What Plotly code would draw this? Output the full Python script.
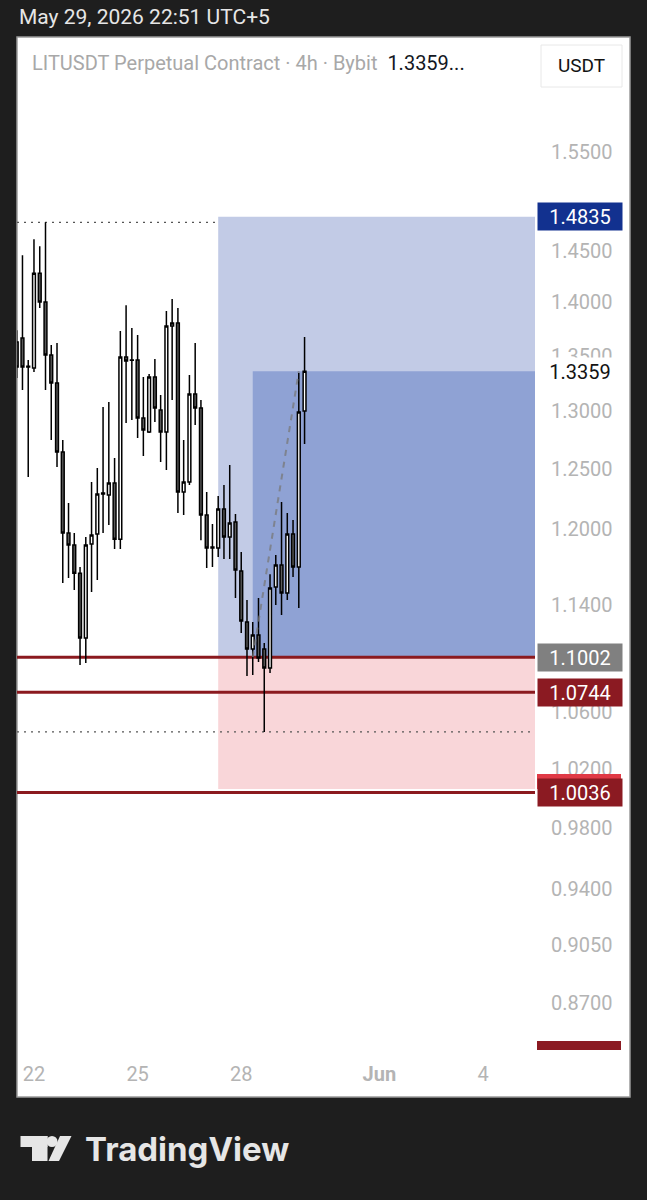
import numpy as np
import pandas as pd
import plotly.graph_objects as go

# ---------------- data ----------------
last_bar = pd.Timestamp("2026-05-29 20:00")
times = pd.date_range(end=last_bar, periods=51, freq="4h")

opens = [1.3627, 1.3664, 1.3397, 1.3388, 1.4279, 1.4001, 1.3507, 1.3253, 1.2646, 1.1969,
         1.1872, 1.1648, 1.1146, 1.1880, 1.1961, 1.2291, 1.2283, 1.2383, 1.1920, 1.3488,
         1.3461, 1.3461, 1.2942, 1.2819, 1.3307, 1.3012, 1.2819, 1.3775, 1.3803, 1.2307,
         1.2391, 1.3154, 1.3030, 1.2117, 1.1856, 1.1848, 1.2166, 1.1937, 1.2060, 1.1664,
         1.1268, 1.1064, 1.1169, 1.1064, 1.0922, 1.1539, 1.1712, 1.1492, 1.1961, 1.1696,
         1.3003]
highs = [1.3737, 1.4454, 1.3461, 1.4612, 1.4543, 1.4780, 1.3599, 1.3617, 1.2750, 1.2216,
         1.1969, 1.1696, 1.1937, 1.2391, 1.2510, 1.3039, 1.3083, 1.2595, 1.3728, 1.3972,
         1.3756, 1.3691, 1.3307, 1.3334, 1.3470, 1.3146, 1.3916, 1.4030, 1.3944, 1.2750,
         1.3325, 1.3617, 1.3101, 1.2307, 1.2043, 1.2274, 1.2366, 1.2536, 1.2125, 1.1816,
         1.1437, 1.1268, 1.1453, 1.1109, 1.1640, 1.1792, 1.2224, 1.2133, 1.2076, 1.3343,
         1.3673]
lows = [1.3298, 1.3190, 1.2434, 1.3352, 1.3944, 1.3190, 1.2750, 1.2519, 1.1570, 1.1609,
        1.1515, 1.0944, 1.0959, 1.1499, 1.1593, 1.1969, 1.2035, 1.1840, 1.1840, 1.2898,
        1.2924, 1.2767, 1.2612, 1.2810, 1.2907, 1.2561, 1.2493, 1.3101, 1.2133, 1.2117,
        1.2366, 1.2880, 1.1912, 1.1688, 1.1696, 1.1776, 1.1760, 1.1760, 1.1453, 1.1184,
        1.0863, 1.0870, 1.0966, 1.0458, 1.0885, 1.1399, 1.1322, 1.1437, 1.1617, 1.1375,
        1.2715]
closes = [1.3397, 1.3397, 1.3405, 1.4279, 1.4001, 1.3507, 1.3253, 1.2646, 1.1969, 1.1872,
          1.1648, 1.1146, 1.1872, 1.1953, 1.2291, 1.2299, 1.2383, 1.1920, 1.3488, 1.3452,
          1.3458, 1.2942, 1.2836, 1.3307, 1.3030, 1.2819, 1.3775, 1.3803, 1.2307, 1.2391,
          1.3154, 1.3030, 1.2117, 1.1848, 1.1848, 1.2166, 1.1937, 1.2051, 1.1672, 1.1275,
          1.1064, 1.1169, 1.0996, 1.0922, 1.1531, 1.1712, 1.1492, 1.1961, 1.1696, 1.2994,
          1.3359]

target_price = 1.4835
current_price = 1.3359
entry_price = 1.1002
level_2 = 1.0744
level_3 = 1.0036
stop_price = 1.0060
lower_label = 0.8404
swing_high = 1.4780
swing_low = 1.0458

position_start = pd.Timestamp("2026-05-27 08:00")
entry_time = pd.Timestamp("2026-05-28 08:00")
arrow_end_time = pd.Timestamp("2026-05-29 16:00")

x_start = pd.Timestamp("2026-05-21 12:12")
x_end = pd.Timestamp("2026-06-05 12:07")

y_ticks = [1.55, 1.45, 1.40, 1.35, 1.30, 1.25, 1.20, 1.14, 1.06, 1.02, 0.98, 0.94, 0.905, 0.87]
x_ticks = ["2026-05-22", "2026-05-25", "2026-05-28", "2026-06-01", "2026-06-04"]
x_tick_text = ["22", "25", "28", "<b>Jun</b>", "4"]

# ---------------- layout helpers (pixel -> paper) ----------------
W, H = 647, 1200
PL, PR, PT, PB = 17, 535, 38, 1050


def px(x):
    return (x - PL) / (PR - PL)


def py(y):
    return (PB - y) / (PB - PT)


FONT = "Roboto"
fig = go.Figure()

fig.add_trace(go.Candlestick(
    x=times, open=opens, high=highs, low=lows, close=closes,
    increasing=dict(fillcolor="#ffffff", line=dict(color="#000000", width=1.5)),
    decreasing=dict(fillcolor="#5a5a5a", line=dict(color="#000000", width=1.5)),
    whiskerwidth=0, showlegend=False, hoverinfo="skip",
))

fig.add_trace(go.Scatter(
    x=[entry_time, arrow_end_time], y=[entry_price, current_price], mode="lines",
    line=dict(color="rgba(120,120,120,0.75)", width=2, dash="6px,6px"),
    showlegend=False, hoverinfo="skip",
))

shapes = []
# white panel
shapes.append(dict(type="rect", xref="paper", yref="paper", x0=px(17), x1=px(630),
                   y0=py(1097), y1=py(37), fillcolor="#ffffff",
                   line=dict(color="#9a9a9a", width=1.5), layer="below"))
# position tool boxes
shapes.append(dict(type="rect", xref="x", yref="y", x0=position_start, x1=x_end,
                   y0=entry_price, y1=target_price, fillcolor="#c2cbe6",
                   line=dict(width=0), layer="below"))
shapes.append(dict(type="rect", xref="x", yref="y", x0=position_start, x1=x_end,
                   y0=stop_price, y1=entry_price, fillcolor="#f9d6d9",
                   line=dict(width=0), layer="below"))
shapes.append(dict(type="rect", xref="x", yref="y", x0=entry_time, x1=x_end,
                   y0=entry_price, y1=current_price, fillcolor="#8fa2d4",
                   line=dict(width=0), layer="below"))
# dotted swing lines
shapes.append(dict(type="line", xref="x", yref="y", x0=x_start, x1=position_start,
                   y0=swing_high, y1=swing_high,
                   line=dict(color="#555555", width=1.3, dash="2px,5px"), layer="below"))
shapes.append(dict(type="line", xref="x", yref="y", x0=x_start, x1=x_end,
                   y0=swing_low, y1=swing_low,
                   line=dict(color="#555555", width=1.3, dash="2px,5px"), layer="below"))
# red horizontal levels
for lv in [entry_price, level_2, level_3]:
    shapes.append(dict(type="line", xref="x", yref="y", x0=x_start, x1=x_end,
                       y0=lv, y1=lv, line=dict(color="#8b1a1f", width=3), layer="below"))
# stop label band (hidden behind 1.0036 badge)
shapes.append(dict(type="rect", xref="paper", yref="y", ysizemode="pixel", yanchor=stop_price,
                   x0=px(537), x1=px(621), y0=-12, y1=15, fillcolor="#e03a46",
                   line=dict(width=0), layer="above"))
# bottom clipped badge
shapes.append(dict(type="rect", xref="paper", yref="y", ysizemode="pixel", yanchor=lower_label,
                   x0=px(537), x1=px(621), y0=4, y1=13, fillcolor="#8b1a22",
                   line=dict(width=0), layer="above"))
# USDT button
shapes.append(dict(type="rect", xref="paper", yref="paper", x0=px(541), x1=px(622),
                   y0=py(87), y1=py(45), fillcolor="#ffffff",
                   line=dict(color="#e8e8e8", width=1), layer="above"))
# TradingView logo mark
logo_col = "#e6e6e6"
shapes.append(dict(type="rect", xref="paper", yref="paper", x0=px(20.5), x1=px(47.5),
                   y0=py(1147), y1=py(1136), fillcolor=logo_col, line=dict(width=0)))
shapes.append(dict(type="rect", xref="paper", yref="paper", x0=px(32), x1=px(47.5),
                   y0=py(1161), y1=py(1136), fillcolor=logo_col, line=dict(width=0)))
shapes.append(dict(type="circle", xref="paper", yref="paper", x0=px(46.5), x1=px(57.5),
                   y0=py(1147), y1=py(1136), fillcolor=logo_col, line=dict(width=0)))
path = "M {} {} L {} {} L {} {} L {} {} Z".format(px(60), py(1136), px(71.5), py(1136),
                                                  px(59), py(1161), px(48.5), py(1161))
shapes.append(dict(type="path", xref="paper", yref="paper", path=path,
                   fillcolor=logo_col, line=dict(width=0)))

annotations = []


def badge(price, bg, fg="#ffffff"):
    annotations.append(dict(
        xref="paper", yref="y", x=px(537), y=np.log10(price), xanchor="left", yanchor="middle",
        text="{:.4f}".format(price), showarrow=False, bgcolor=bg,
        font=dict(family=FONT, size=20, color=fg), width=80, height=23, borderpad=2,
        align="center"))


badge(target_price, "#12318f")
badge(current_price, "#ffffff", "#131313")
badge(entry_price, "#808080")
badge(level_2, "#8b1a22")
badge(level_3, "#8b1a22")

annotations.append(dict(xref="paper", yref="paper", x=px(17), y=py(17), xanchor="left",
                        yanchor="middle", showarrow=False, text="May 29, 2026 22:51 UTC+5",
                        font=dict(family=FONT, size=21, color="#e6e6e6")))
annotations.append(dict(xref="paper", yref="paper", x=px(30), y=py(63), xanchor="left",
                        yanchor="middle", showarrow=False,
                        text="LITUSDT Perpetual Contract · 4h · Bybit&nbsp;&nbsp;"
                             "<span style='color:#131722'>{:.4f}...</span>".format(current_price),
                        font=dict(family=FONT, size=20, color="#a8a8a8")))
annotations.append(dict(xref="paper", yref="paper", x=px(581.5), y=py(66), xanchor="center",
                        yanchor="middle", showarrow=False, text="USDT",
                        font=dict(family=FONT, size=19, color="#131313")))
annotations.append(dict(xref="paper", yref="paper", x=px(83), y=py(1149), xanchor="left",
                        yanchor="middle", showarrow=False, text="<b>TradingView</b>",
                        font=dict(family="Inter", size=33, color=logo_col)))

fig.update_layout(
    width=W, height=H,
    margin=dict(l=PL, r=W - PR, t=PT, b=H - PB, pad=0),
    paper_bgcolor="#1e1e1e", plot_bgcolor="#ffffff",
    shapes=shapes, annotations=annotations, showlegend=False,
    xaxis=dict(type="date", range=[x_start, x_end], rangeslider=dict(visible=False),
               showgrid=False, zeroline=False, showline=False,
               tickvals=x_ticks, ticktext=x_tick_text, ticks="outside", ticklen=6,
               tickcolor="rgba(0,0,0,0)", tickfont=dict(family=FONT, size=20, color="#b4b4b4")),
    yaxis=dict(type="log", range=[np.log10(0.8427), np.log10(1.675)], side="right",
               showgrid=False, zeroline=False, showline=False,
               tickvals=y_ticks, ticktext=["{:.4f}".format(v) for v in y_ticks],
               ticks="outside", ticklen=11, tickcolor="rgba(0,0,0,0)",
               tickfont=dict(family=FONT, size=20, color="#b4b4b4")),
)

fig.write_html("out.html")
